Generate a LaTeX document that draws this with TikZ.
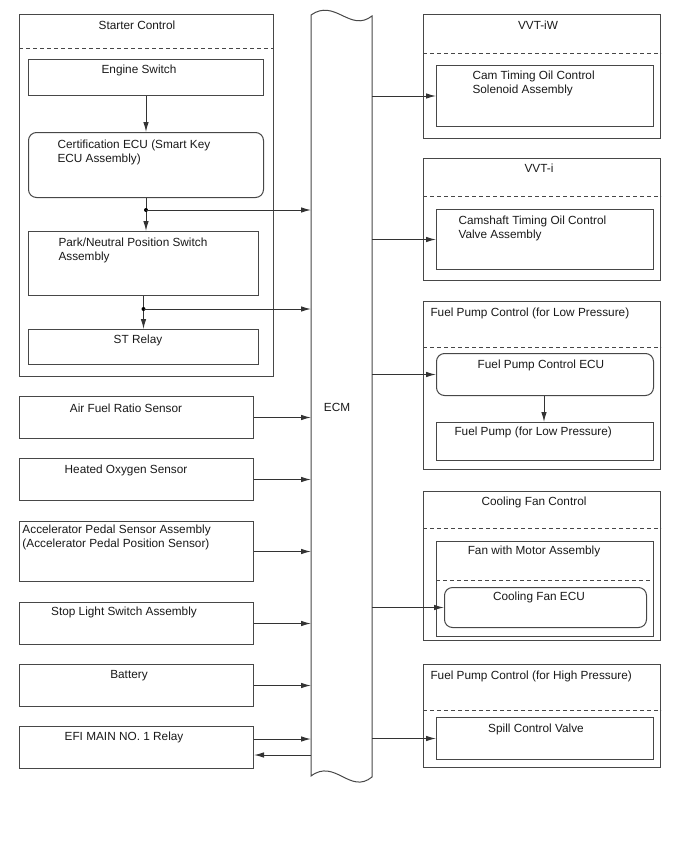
\documentclass[tikz,border=0pt]{standalone}
\usepackage{fontspec}
\setmainfont{Liberation Sans}
\usepackage{tikz}
\usetikzlibrary{arrows.meta,positioning,calc}

\begin{document}
\begin{tikzpicture}[x=1pt,y=-1pt,>={Latex[length=10pt,width=5.5pt]},
  line width=1pt,
  blk/.style={draw=black!72,rectangle,inner sep=0pt,anchor=north west},
  rblk/.style={blk,rounded corners=8pt},
  txt/.style={inner sep=0pt,font=\fontsize{11.8}{14}\selectfont,text=black!90},
  sep/.style={draw=black!72,dash pattern=on 4pt off 3pt},
  arr/.style={->,draw=black!80},
  dot/.style={circle,fill=black,inner sep=0pt,minimum size=4pt}]
  \useasboundingbox (0,0) rectangle (688,852);

  % ECM bar with wavy ends
  \draw[black!72] (311,15) .. controls (335,-2) and (350,33) .. (372,16)
    -- (372,777) .. controls (350,795) and (335,758) .. (311,776) -- cycle;
  \node[txt,anchor=base] (ecm) at (337,411) {ECM};
  \coordinate (ecmL) at (311,0);
  \coordinate (ecmR) at (372,0);

  % starter control
  \node[blk,minimum width=254pt,minimum height=362pt] (starter) at (19,14) {};
  \draw[sep] (starter.west |- 0,48) -- (starter.east |- 0,48);
  \node[txt,anchor=base] at (137,29) {Starter Control};
  \node[blk,minimum width=235pt,minimum height=36pt] (engsw) at (28,59) {};
  \node[txt,anchor=base] at (139,73) {Engine Switch};
  \node[rblk,minimum width=235pt,minimum height=65pt] (cert) at (28,132) {};
  \node[txt,anchor=north west,align=left] at (57,139) {Certification ECU (Smart Key\\ECU Assembly)};
  \node[blk,minimum width=230pt,minimum height=64pt] (pnp) at (28,231) {};
  \node[txt,anchor=north west,align=left] at (58,237) {Park/Neutral Position Switch\\Assembly};
  \node[blk,minimum width=230pt,minimum height=35pt] (strelay) at (28,329) {};
  \node[txt,anchor=base] at (138,343) {ST Relay};

  \draw[arr] (engsw.south) -- (cert.north);
  \draw[arr] (cert.south) -- (cert.south |- pnp.north);
  \node[dot] (j1) at (cert.south |- 0,210) {};
  \draw[arr] (j1.center) -- (j1 -| ecmL);
  \draw[arr] (pnp.south) -- (strelay.north);
  \node[dot] (j2) at (pnp.south |- 0,309) {};
  \draw[arr] (j2.center) -- (j2 -| ecmL);

  % inputs
  \node[blk,minimum width=234pt,minimum height=42pt] (air) at (19,396) {};
  \node[txt,anchor=base] at (126,412) {Air Fuel Ratio Sensor};
  \node[blk,minimum width=234pt,minimum height=42pt] (ho2) at (19,458) {};
  \node[txt,anchor=base] at (126,473) {Heated Oxygen Sensor};
  \node[blk,minimum width=234pt,minimum height=60pt] (accel) at (19,521) {};
  \node[txt,anchor=north west,align=left] at (22,524) {Accelerator Pedal Sensor Assembly\\(Accelerator Pedal Position Sensor)};
  \node[blk,minimum width=234pt,minimum height=42pt] (stoplt) at (19,602) {};
  \node[txt,anchor=base] at (124,615) {Stop Light Switch Assembly};
  \node[blk,minimum width=234pt,minimum height=42pt] (batt) at (19,664) {};
  \node[txt,anchor=base] at (129,678) {Battery};
  \node[blk,minimum width=234pt,minimum height=42pt] (efi) at (19,726) {};
  \node[txt,anchor=base] at (124,740) {EFI MAIN NO. 1 Relay};

  \draw[arr] (air.east) -- (air.east -| ecmL);
  \draw[arr] (ho2.east) -- (ho2.east -| ecmL);
  \draw[arr] (accel.east) -- (accel.east -| ecmL);
  \draw[arr] (stoplt.east) -- (stoplt.east -| ecmL);
  \draw[arr] (batt.east) -- (batt.east -| ecmL);
  \draw[arr] (efi.east |- 0,739) -- (ecmL |- 0,739);
  \draw[arr] (ecmL |- 0,755) -- (efi.east |- 0,755);

  % VVT-iW
  \node[blk,minimum width=237pt,minimum height=124pt] (vvtiw) at (423,14) {};
  \draw[sep] (vvtiw.west |- 0,53) -- (vvtiw.east |- 0,53);
  \node[txt,anchor=base] at (538,29) {VVT-iW};
  \node[blk,minimum width=217pt,minimum height=61pt] (ocv1) at (436,65) {};
  \node[txt,anchor=north west,align=left] at (472,70) {Cam Timing Oil Control\\Solenoid Assembly};
  % VVT-i
  \node[blk,minimum width=237pt,minimum height=122pt] (vvti) at (423,158) {};
  \draw[sep] (vvti.west |- 0,196) -- (vvti.east |- 0,196);
  \node[txt,anchor=base] at (539,172) {VVT-i};
  \node[blk,minimum width=217pt,minimum height=60pt] (ocv2) at (436,209) {};
  \node[txt,anchor=north west,align=left] at (458,215) {Camshaft Timing Oil Control\\Valve Assembly};
  % fuel pump (low)
  \node[blk,minimum width=237pt,minimum height=168pt] (fplow) at (423,301) {};
  \draw[sep] (fplow.west |- 0,347) -- (fplow.east |- 0,347);
  \node[txt,anchor=base west] at (430,316) {Fuel Pump Control (for Low Pressure)};
  \node[rblk,minimum width=217pt,minimum height=42pt] (fpecu) at (436,353) {};
  \node[txt,anchor=base] at (541,368) {Fuel Pump Control ECU};
  \node[blk,minimum width=217pt,minimum height=38pt] (fpump) at (436,422) {};
  \node[txt,anchor=base west] at (454,435) {Fuel Pump (for Low Pressure)};
  \draw[arr] (fpecu.south -| 544,0) -- (fpump.north -| 544,0);
  % cooling fan
  \node[blk,minimum width=237pt,minimum height=149pt] (cfan) at (423,491) {};
  \draw[sep] (cfan.west |- 0,528) -- (cfan.east |- 0,528);
  \node[txt,anchor=base] at (534,505) {Cooling Fan Control};
  \node[blk,minimum width=217pt,minimum height=95pt] (fanmtr) at (436,541) {};
  \draw[sep] (fanmtr.west |- 0,580) -- (fanmtr.east |- 0,580);
  \node[txt,anchor=base] at (534,554) {Fan with Motor Assembly};
  \node[rblk,minimum width=202pt,minimum height=40pt] (cfecu) at (444,587) {};
  \node[txt,anchor=base] at (539,600) {Cooling Fan ECU};
  % fuel pump (high)
  \node[blk,minimum width=237pt,minimum height=103pt] (fphigh) at (423,664) {};
  \draw[sep] (fphigh.west |- 0,710) -- (fphigh.east |- 0,710);
  \node[txt,anchor=base west] at (430,679) {Fuel Pump Control (for High Pressure)};
  \node[blk,minimum width=217pt,minimum height=42pt] (spill) at (436,717) {};
  \node[txt,anchor=base] at (536,732) {Spill Control Valve};

  \draw[arr] (ecmR |- ocv1.west) -- (ocv1.west);
  \draw[arr] (ecmR |- ocv2.west) -- (ocv2.west);
  \draw[arr] (ecmR |- fpecu.west) -- (fpecu.west);
  \draw[arr] (ecmR |- cfecu.west) -- (cfecu.west);
  \draw[arr] (ecmR |- spill.west) -- (spill.west);
\end{tikzpicture}
\end{document}
